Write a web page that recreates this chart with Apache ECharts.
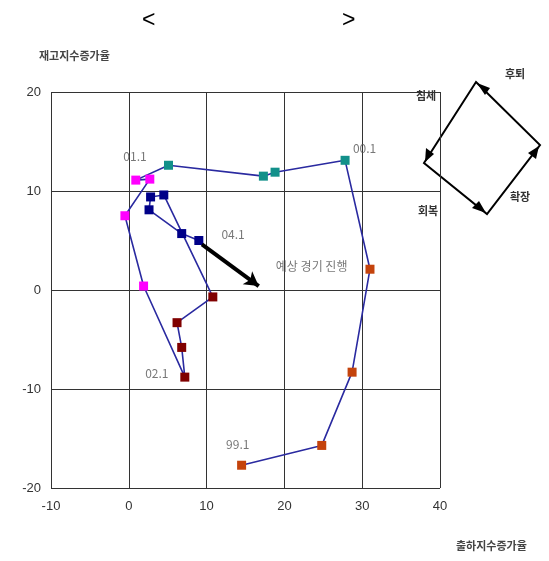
<!DOCTYPE html>
<html>
<head>
<meta charset="utf-8">
<script src="https://cdn.jsdelivr.net/npm/echarts@6/dist/echarts.min.js"></script>
<style>
html,body{margin:0;padding:0;background:#fff;}
#main{width:549px;height:561px;}
</style>
</head>
<body>
<div id="main"></div>
<script>
// 분기별 출하/재고 지수 증가율
var periods = ['99.1','99.2','99.3','99.4','00.1','00.2','00.3','00.4','01.1','01.2','01.3','01.4',
	'02.1','02.2','02.3','02.4','03.1','03.2','03.3','03.4','04.1'];
var shipGrowth = [14.5,24.8,28.7,31.0, 27.8,18.8,17.3,5.1, 0.9,2.7,-0.5,1.9, 7.2,6.8,6.2,10.8, 4.5,2.8,2.6,6.8, 9.0];
var invGrowth = [-17.7,-15.7,-8.3,2.1, 13.1,11.9,11.5,12.6, 11.1,11.2,7.5,0.4, -8.8,-5.8,-3.3,-0.7, 9.6,9.4,8.1,5.7, 5.0];
var yearColors = ['#c4430c','#12908a','#ff00ff','#800000','#000088','#000088'];

// 주요 시점 표시 위치
var noteText = ['99.1','02.1','00.1','01.1','04.1','예상 경기 진행'];
var noteX = [14.0,3.6,30.3,0.8,13.4,23.5];
var noteY = [-15.6,-8.4,14.3,13.5,5.6,2.4];
var trendArrow = [[9.4,4.6],[16.7,0.4]];

var dom = document.getElementById('main');
var myChart = echarts.init(dom);

var path = [];
for (var i = 0; i < periods.length; i++) path.push([shipGrowth[i], invGrowth[i]]);

var groups = {};
for (var i = 0; i < periods.length; i++) {
	var c = yearColors[Math.floor(i / 4)];
	if (!groups[c]) groups[c] = [];
	groups[c].push([shipGrowth[i], invGrowth[i], periods[i]]);
}

var series = [{
	type: 'line',
	data: path,
	showSymbol: false,
	lineStyle: { color: '#2a2aa0', width: 1.6 },
	z: 2,
	markLine: {
		silent: true,
		symbol: ['none', 'arrow'],
		symbolSize: [12, 14],
		label: { show: false },
		lineStyle: { color: '#000', width: 4, type: 'solid' },
		data: [[{ coord: trendArrow[0] }, { coord: trendArrow[1] }]]
	}
}];
Object.keys(groups).forEach(function (c) {
	series.push({
		type: 'scatter',
		data: groups[c],
		symbol: 'rect',
		symbolSize: 9,
		itemStyle: { color: c, opacity: 1 },
		z: 3
	});
});
var notes = [];
for (var i = 0; i < noteText.length; i++) notes.push([noteX[i], noteY[i], noteText[i]]);
series.push({
	type: 'scatter',
	data: notes,
	symbolSize: 0,
	label: {
		show: true,
		position: 'inside',
		formatter: function (p) { return p.data[2]; },
		color: '#555',
		fontSize: 12,
		fontFamily: 'Noto Sans CJK KR, Liberation Sans'
	},
	z: 4
});

var option = {
	backgroundColor: '#fff',
	animation: false,
	grid: { left: 51, right: 109, top: 92, bottom: 73 },
	xAxis: {
		type: 'value', min: -10, max: 40, interval: 10,
		axisLine: { show: false },
		axisTick: { show: false },
		splitLine: { lineStyle: { color: '#333', width: 1 } },
		axisLabel: { margin: 12, color: '#333', fontSize: 13, fontFamily: 'Liberation Sans' }
	},
	yAxis: {
		type: 'value', min: -20, max: 20, interval: 10,
		axisLine: { show: false },
		axisTick: { show: false },
		splitLine: { lineStyle: { color: '#333', width: 1 } },
		axisLabel: { margin: 10, color: '#333', fontSize: 13, fontFamily: 'Liberation Sans' }
	},
	series: series,
	graphic: [
		{ type: 'text', left: 142, top: 9, style: { text: '<', fontSize: 23, fill: '#000', fontFamily: 'Liberation Sans' } },
		{ type: 'text', left: 342, top: 9, style: { text: '>', fontSize: 23, fill: '#000', fontFamily: 'Liberation Sans' } },
		{ type: 'text', left: 39, top: 50, style: { text: '재고지수증가율', fontSize: 11, fontWeight: 'bold', fill: '#444', fontFamily: 'Noto Sans CJK KR' } },
		{ type: 'text', left: 456, top: 540, style: { text: '출하지수증가율', fontSize: 11, fontWeight: 'bold', fill: '#444', fontFamily: 'Noto Sans CJK KR' } },
		{ type: 'text', left: 416, top: 90, style: { text: '침체', fontSize: 11, fontWeight: 'bold', fill: '#333', fontFamily: 'Noto Sans CJK KR' } },
		{ type: 'text', left: 505, top: 68, style: { text: '후퇴', fontSize: 11, fontWeight: 'bold', fill: '#333', fontFamily: 'Noto Sans CJK KR' } },
		{ type: 'text', left: 510, top: 191, style: { text: '확장', fontSize: 11, fontWeight: 'bold', fill: '#333', fontFamily: 'Noto Sans CJK KR' } },
		{ type: 'text', left: 418, top: 205, style: { text: '회복', fontSize: 11, fontWeight: 'bold', fill: '#333', fontFamily: 'Noto Sans CJK KR' } },
		{ type: 'polygon', shape: { points: [[476,82],[540,145],[487,214],[424,163]] }, style: { fill: 'none', stroke: '#000', lineWidth: 2 } },
		{ type: 'polygon', shape: { points: [[477,83],[490,88],[485,95]] }, style: { fill: '#000' } },
		{ type: 'polygon', shape: { points: [[425,162],[426,148],[434,154]] }, style: { fill: '#000' } },
		{ type: 'polygon', shape: { points: [[486,213],[472,208],[479,201]] }, style: { fill: '#000' } },
		{ type: 'polygon', shape: { points: [[539,146],[536,159],[528,153]] }, style: { fill: '#000' } }
	]
};
myChart.setOption(option, true);
</script>
</body>
</html>
